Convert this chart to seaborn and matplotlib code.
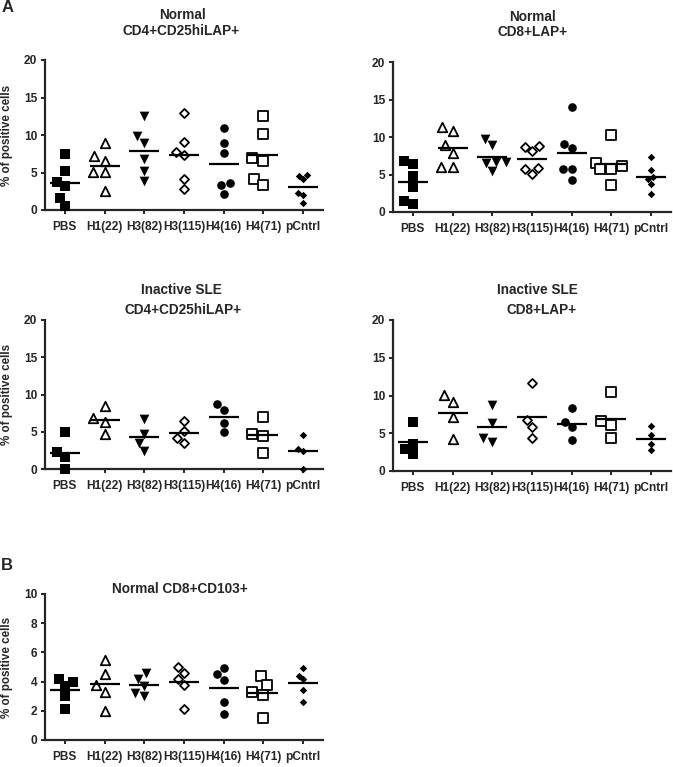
import matplotlib
matplotlib.use("Agg")
import matplotlib.pyplot as plt
import pandas as pd
import seaborn as sns

# ---------------- data ----------------
categories = ["PBS", "H1(22)", "H3(82)", "H3(115)", "H4(16)", "H4(71)", "pCntrl"]

# Normal CD4+CD25hiLAP+
normal_cd4 = [
    [7.5, 5.2, 3.8, 3.2, 1.6, 0.6],
    [9.0, 7.2, 6.6, 5.1, 5.1, 2.5],
    [12.6, 9.9, 9.0, 6.8, 5.2, 3.9],
    [13.0, 9.1, 7.8, 7.3, 4.1, 2.8],
    [10.9, 8.9, 7.6, 3.6, 3.3, 2.2],
    [12.6, 10.1, 7.0, 6.6, 4.1, 3.3],
    [4.6, 4.2, 4.7, 2.3, 2.0, 0.9],
]
# Normal CD8+LAP+
normal_cd8 = [
    [6.8, 6.4, 4.8, 3.4, 1.5, 1.1],
    [11.4, 10.8, 9.0, 7.9, 6.0, 6.0],
    [9.8, 8.9, 6.7, 6.5, 6.7, 5.5],
    [8.8, 8.1, 8.7, 5.9, 5.1, 5.7],
    [14.0, 9.1, 8.6, 5.7, 5.7, 4.3],
    [10.3, 6.6, 5.7, 5.7, 6.2, 3.6],
    [7.4, 5.6, 4.7, 4.4, 3.8, 2.4],
]
# Inactive SLE CD4+CD25hiLAP+
sle_cd4 = [
    [4.9, 2.3, 1.6, 0.0],
    [8.5, 4.7, 6.3, 6.8],
    [6.7, 4.7, 3.5, 2.4],
    [6.5, 5.1, 4.2, 3.5],
    [8.7, 7.9, 6.2, 4.9],
    [7.0, 4.7, 4.4, 2.2],
    [4.5, 2.7, 2.4, 0.0],
]
# Inactive SLE CD8+LAP+
sle_cd8 = [
    [6.5, 3.6, 2.9, 2.2],
    [10.1, 9.1, 7.1, 4.2],
    [8.8, 6.3, 4.4, 3.8],
    [11.6, 6.7, 5.8, 4.4],
    [8.4, 6.5, 5.8, 4.1],
    [10.4, 6.6, 6.1, 4.4],
    [5.9, 4.8, 3.6, 2.8],
]
# Normal CD8+CD103+
normal_cd103 = [
    [4.0, 3.7, 4.2, 3.0, 2.1],
    [5.5, 4.5, 3.8, 3.3, 2.0],
    [4.6, 4.2, 3.7, 3.0, 3.2],
    [5.0, 4.6, 4.2, 3.8, 2.1],
    [4.5, 4.9, 4.1, 2.6, 1.8],
    [4.4, 3.8, 3.3, 3.1, 1.5],
    [4.9, 4.4, 4.2, 3.4, 2.6],
]

ticks_20 = [0, 5, 10, 15, 20]
ticks_10 = [0, 2, 4, 6, 8, 10]

# ---------------- style ----------------
markers = ["s", "^", "v", "D", "o", "s", "D"]
filled = [True, False, True, False, True, False, True]
msizes = [6.5, 6.8, 7.0, 4.6, 6.2, 6.5, 3.8]

sns.set_style("ticks")
plt.rcParams["font.family"] = ["Liberation Sans", "DejaVu Sans"]
plt.rcParams["font.weight"] = "bold"
plt.rcParams["axes.labelweight"] = "bold"

W, H = 673, 767
fig = plt.figure(figsize=(W / 100, H / 100), dpi=100)


def px_axes(l, t, r, b):
    return fig.add_axes([l / W, 1 - b / H, (r - l) / W, (b - t) / H])


def ftext(x, y, s, size, **kw):
    fig.text(x / W, 1 - y / H, s, ha="center", va="center",
             fontsize=size, fontweight="bold", **kw)


def draw(ax, groups, yticks, ylabel):
    df = pd.DataFrame({
        "group": [c for c, g in zip(categories, groups) for _ in g],
        "value": [v for g in groups for v in g],
    })
    for i, c in enumerate(categories):
        sub = df[df["group"] == c]
        if filled[i]:
            sns.swarmplot(data=sub, x="group", y="value", order=categories,
                          marker=markers[i], color="black", size=msizes[i],
                          linewidth=0, ax=ax, zorder=3)
        else:
            sns.swarmplot(data=sub, x="group", y="value", order=categories,
                          marker=markers[i], color="white", edgecolor="black",
                          size=msizes[i], linewidth=1.3, ax=ax, zorder=3)
    sns.pointplot(data=df, x="group", y="value", order=categories,
                  estimator="mean", errorbar=None, linestyle="none",
                  marker="_", markersize=21, markeredgewidth=1.6,
                  color="black", ax=ax, zorder=4)
    for coll in ax.collections:
        coll.set_clip_on(False)
    for ln in ax.lines:
        ln.set_clip_on(False)
    ax.set_xlim(-0.5, 6.5)
    ax.set_ylim(0, yticks[-1])
    ax.set_yticks(yticks)
    ax.set_xticks(range(len(categories)))
    ax.set_xticklabels(categories)
    ax.set_xlabel("")
    if ylabel:
        ax.set_ylabel("% of positive cells", fontsize=8.4, fontweight="bold")
        ax.yaxis.set_label_coords(-0.115, 0.5)
    else:
        ax.set_ylabel("")
    sns.despine(ax=ax)
    for sp in ("left", "bottom"):
        ax.spines[sp].set_linewidth(1.6)
    ax.tick_params(axis="both", width=1.4, length=3, labelsize=8.6)
    ax.tick_params(axis="x", pad=5)
    ax.tick_params(axis="y", pad=2.5)
    for lab in ax.get_xticklabels() + ax.get_yticklabels():
        lab.set_fontweight("bold")


ax1 = px_axes(45, 60, 323, 210)
draw(ax1, normal_cd4, ticks_20, True)
ax2 = px_axes(393, 62, 671, 212)
draw(ax2, normal_cd8, ticks_20, False)
ax3 = px_axes(45, 320, 323, 469)
draw(ax3, sle_cd4, ticks_20, True)
ax4 = px_axes(393, 320, 671, 471)
draw(ax4, sle_cd8, ticks_20, False)
ax5 = px_axes(45, 594, 323, 740)
draw(ax5, normal_cd103, ticks_10, True)

# titles
ftext(183, 15, "Normal", 9.8)
ftext(181, 31, "CD4+CD25hiLAP+", 9.8)
ftext(532, 17, "Normal", 9.8)
ftext(533, 32, "CD8+LAP+", 9.8)
ftext(181, 290, "Inactive SLE", 9.8)
ftext(183, 310, "CD4+CD25hiLAP+", 9.8)
ftext(537, 290, "Inactive SLE", 9.8)
ftext(542, 310, "CD8+LAP+", 9.8)
ftext(180, 589, "Normal CD8+CD103+", 9.8)

# panel letters
ftext(8, 8, "A", 12)
ftext(7, 566, "B", 12)

fig.savefig("out.png", dpi=100, facecolor="white")
